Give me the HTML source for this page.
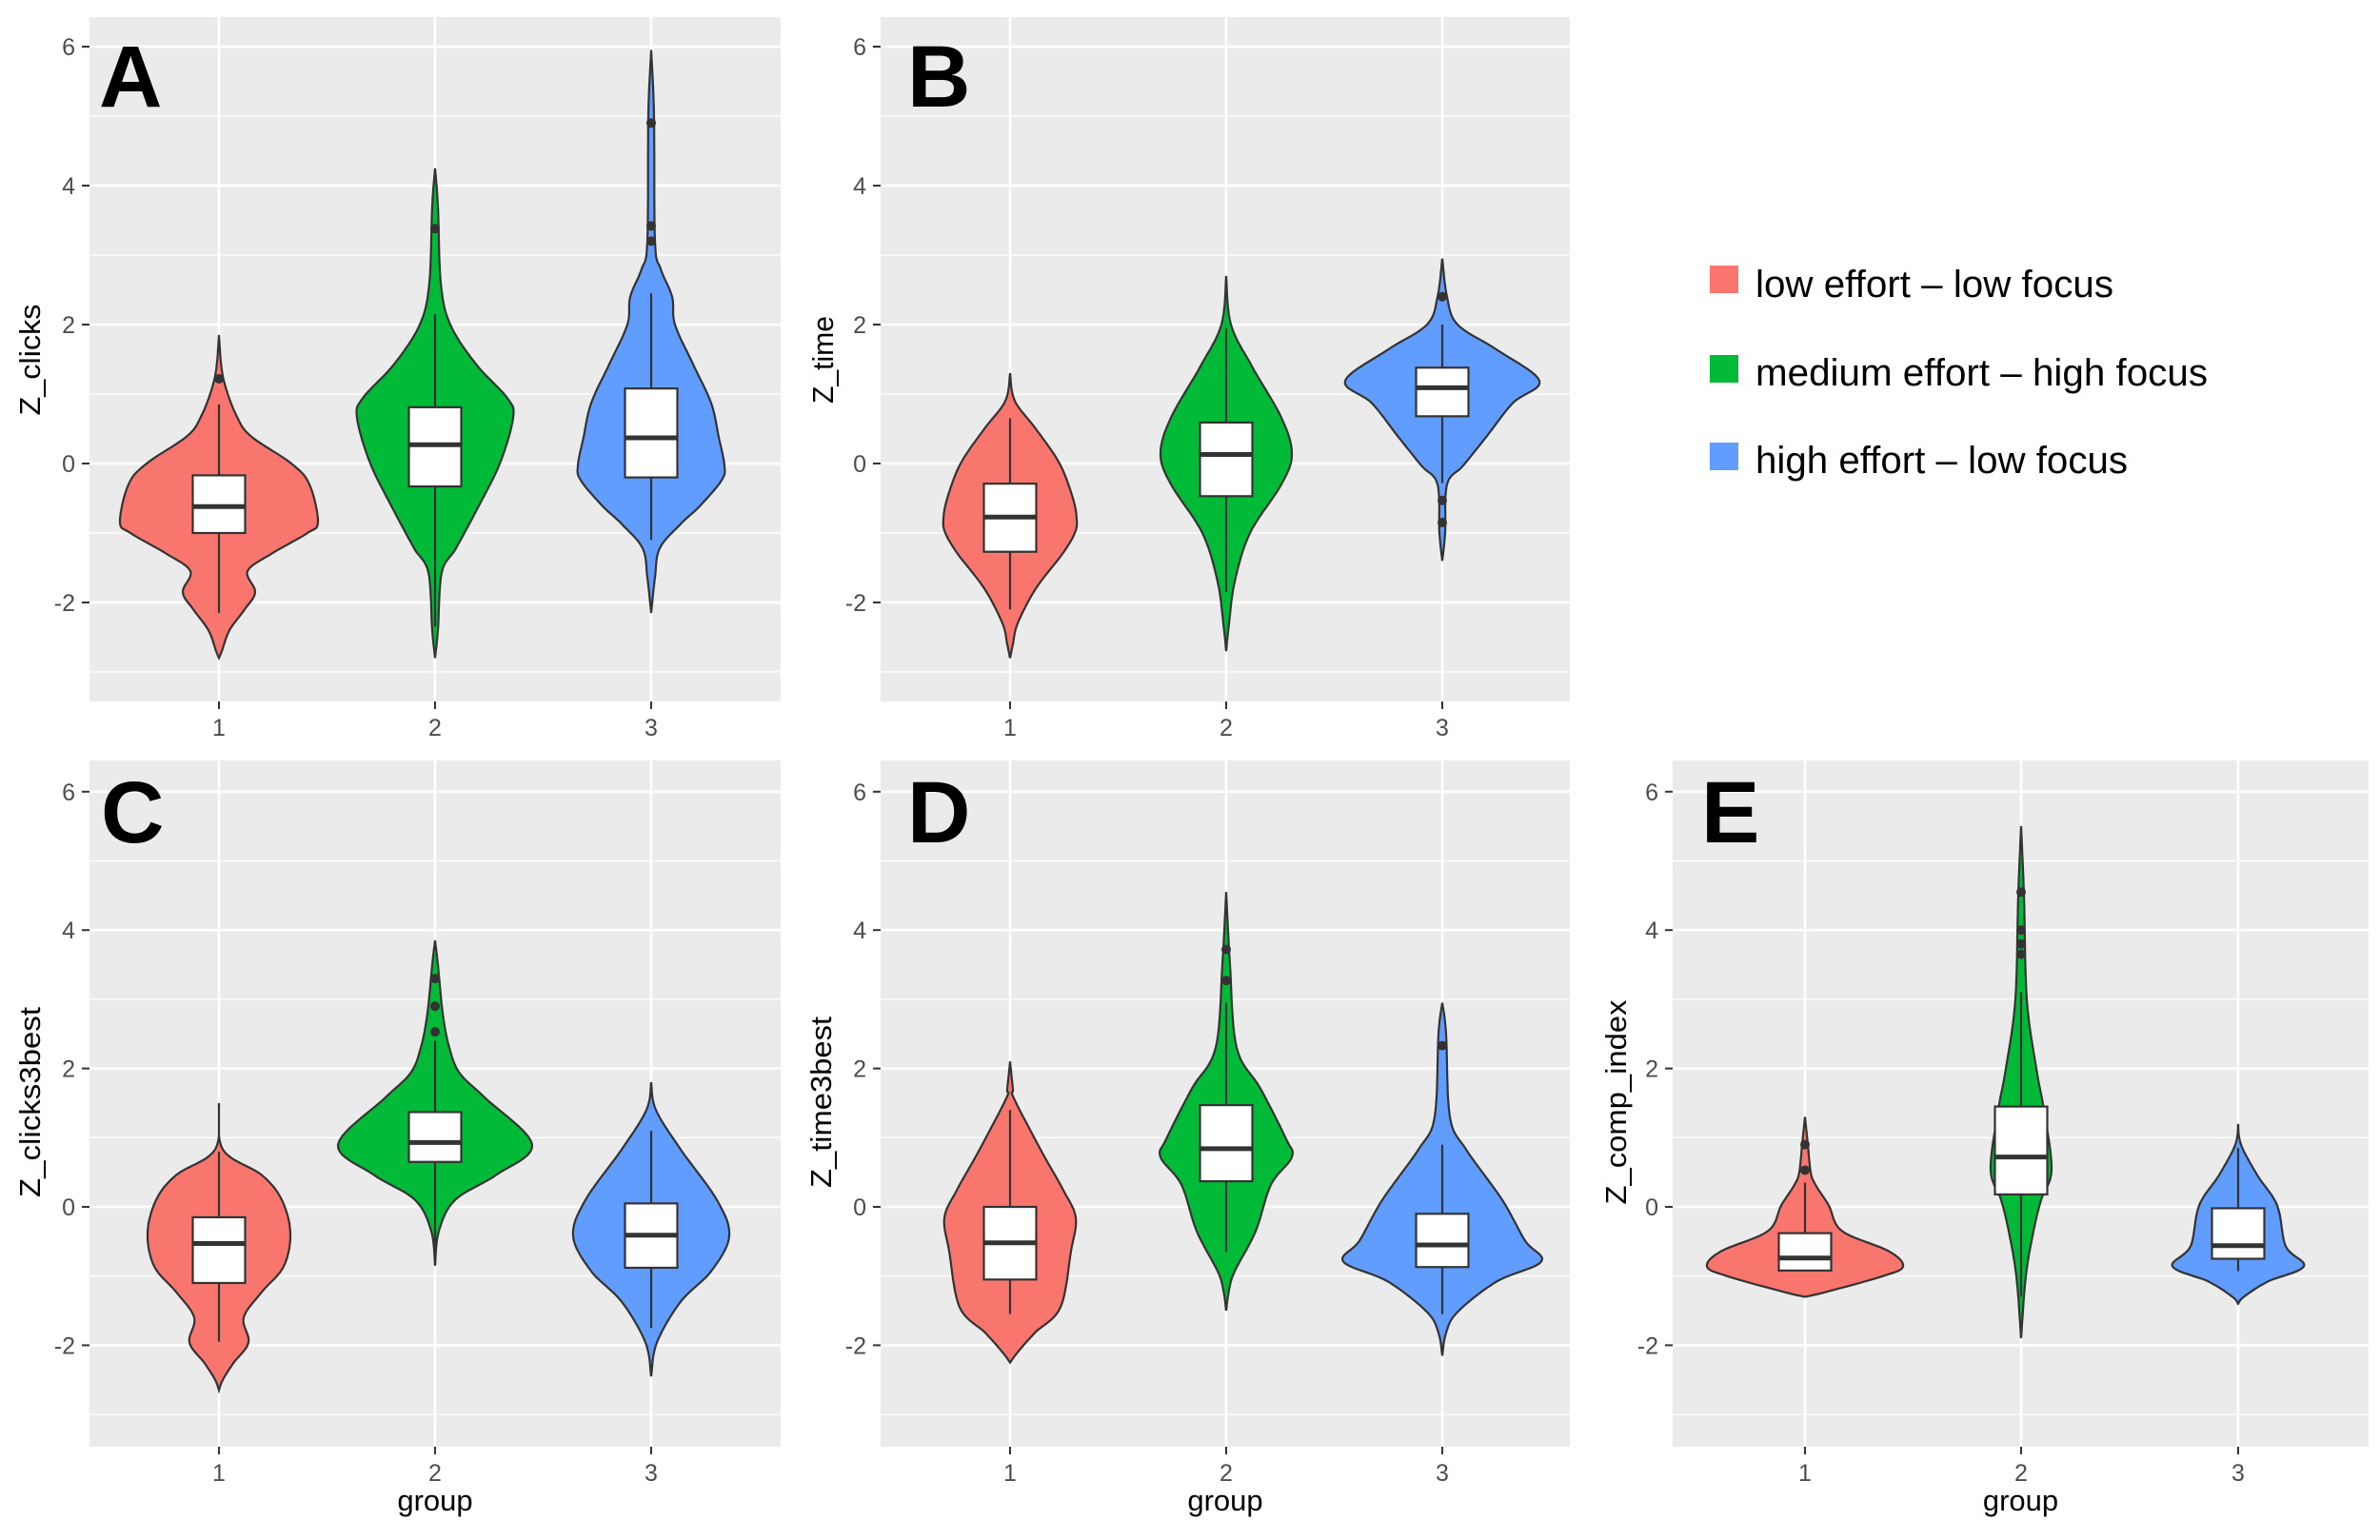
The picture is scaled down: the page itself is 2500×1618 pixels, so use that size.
<!DOCTYPE html>
<html><head><meta charset="utf-8">
<style>
html,body{margin:0;padding:0;background:#fff;}
svg{display:block;}
text{font-family:"Liberation Sans",Arial,sans-serif;}
</style></head>
<body>
<svg id="s" xmlns="http://www.w3.org/2000/svg" width="2500" height="1618" viewBox="0 0 2500 1618">
<rect width="2500" height="1618" fill="#fff"/>
<g id="g"></g>
<!-- legend -->
<rect x="1796" y="279" width="30" height="29" fill="#F8766D"/>
<rect x="1796" y="373" width="30" height="29" fill="#00BA38"/>
<rect x="1796" y="465" width="30" height="29" fill="#619CFF"/>
<text x="1844" y="312" font-size="40" textLength="376" lengthAdjust="spacingAndGlyphs">low effort – low focus</text>
<text x="1844" y="405" font-size="40" textLength="475" lengthAdjust="spacingAndGlyphs">medium effort – high focus</text>
<text x="1844" y="497" font-size="40" textLength="391" lengthAdjust="spacingAndGlyphs">high effort – low focus</text>
</svg>
<script>
var NS="http://www.w3.org/2000/svg";var G=document.getElementById("g");var out="";
var cols=["#F8766D","#00BA38","#619CFF"];
function cr(pts,n){ // catmull-rom on [v,hw]
 var r=[];for(var i=0;i<pts.length-1;i++){var p0=pts[Math.max(0,i-1)],p1=pts[i],p2=pts[i+1],p3=pts[Math.min(pts.length-1,i+2)];
 for(var t=0;t<n;t++){var s=t/n,s2=s*s,s3=s2*s;
 function f(a,b,c,d){return 0.5*((2*b)+(-a+c)*s+(2*a-5*b+4*c-d)*s2+(-a+3*b-3*c+d)*s3);}
 r.push([f(p0[0],p1[0],p2[0],p3[0]),Math.max(0,f(p0[1],p1[1],p2[1],p3[1]))]);}}
 r.push(pts[pts.length-1]);return r;}
var panels=[
{x0:94,x1:820,y0:18,y1:737,z:487,u:73,lab:"A",lx:104,ly:112,title:"Z_clicks",tx:31,ty:378,tl:117,xlab:false,
 v:[
 {p:[[1.85,0],[1.4,2.5],[1.1,7],[0.7,18],[0.4,33],[0,76],[-0.3,95],[-0.84,104],[-1.0,93],[-1.3,55],[-1.55,30],[-1.85,38],[-2.1,27],[-2.4,11],[-2.7,3],[-2.8,0]],b:[-1.0,-0.62,-0.17],w:[-2.15,0.85],o:[1.22]},
 {p:[[4.25,0],[3.7,3],[2.6,6],[2.0,16],[1.43,43],[0.94,76],[0.66,82],[0,68],[-0.66,44],[-1.22,22],[-1.57,7],[-2.4,3],[-2.8,0]],b:[-0.33,0.27,0.81],w:[-2.35,2.15],o:[3.38]},
 {p:[[5.95,0],[5,3],[3.2,4],[2.8,10],[2.4,22],[2.0,25],[1.43,44],[0.87,63],[0.38,71],[-0.03,77],[-0.24,74],[-0.6,52],[-0.87,31],[-1.22,9],[-1.64,4],[-2.15,0]],b:[-0.2,0.37,1.08],w:[-1.1,2.45],o:[4.9,3.42,3.2]}]},
{x0:925,x1:1649,y0:18,y1:737,z:487,u:73,lab:"B",lx:953,ly:112,title:"Z_time",tx:864,ty:378,tl:92,xlab:false,
 v:[
 {p:[[1.3,0],[0.9,5],[0.5,27],[0,52],[-0.5,66],[-0.8,70],[-1.0,68],[-1.3,55],[-1.8,27],[-2.3,8],[-2.6,3],[-2.8,0]],b:[-1.27,-0.77,-0.29],w:[-2.1,0.65],o:[]},
 {p:[[2.7,0],[2.0,5],[1.4,27],[0.66,58],[0.14,69],[-0.3,58],[-1.0,25],[-1.7,9],[-2.3,3],[-2.7,0]],b:[-0.47,0.13,0.59],w:[-1.85,1.95],o:[]},
 {p:[[2.95,0],[2.4,5],[2.0,16],[1.64,57],[1.19,102],[0.87,74],[0.38,46],[-0.03,22],[-0.3,5],[-1.0,3],[-1.4,0]],b:[0.68,1.09,1.38],w:[-0.28,2.0],o:[2.4,-0.53,-0.85]}]},
{x0:94,x1:820,y0:799,y1:1520,z:1268,u:72.7,lab:"C",lx:106,ly:885,title:"Z_clicks3best",tx:31,ty:1158,tl:200,xlab:true,
 v:[
 {p:[[1.5,0],[0.83,4],[0.46,45],[0.1,66],[-0.38,75],[-0.86,68],[-1.23,45],[-1.6,26],[-1.96,31],[-2.26,15],[-2.5,4],[-2.65,0]],b:[-1.1,-0.53,-0.15],w:[-1.95,0.8],o:[]},
 {p:[[3.85,0],[3.5,3],[2.8,8],[2.3,15],[1.93,26],[1.57,53],[0.9,102],[0.46,64],[0.1,21],[-0.35,4],[-0.85,0]],b:[0.65,0.93,1.37],w:[-0.6,2.4],o:[3.3,2.9,2.53]},
 {p:[[1.8,0],[1.4,5],[0.83,31],[0.1,69],[-0.42,82],[-0.93,63],[-1.37,31],[-1.96,6],[-2.45,0]],b:[-0.88,-0.41,0.05],w:[-1.75,1.1],o:[]}]},
{x0:925,x1:1649,y0:799,y1:1520,z:1268,u:72.7,lab:"D",lx:953,ly:885,title:"Z_time3best",tx:862,ty:1158,tl:180,xlab:true,
 v:[
 {p:[[2.1,0],[1.7,3],[1.57,4],[0.83,32],[0.24,56],[-0.16,69],[-0.64,64],[-1.45,53],[-1.82,26],[-2.1,8],[-2.25,0]],b:[-1.05,-0.52,0],w:[-1.55,1.4],o:[]},
 {p:[[4.55,0],[3.5,4],[2.3,11],[1.71,36],[0.98,63],[0.72,69],[0.32,47],[-0.35,31],[-0.93,9],[-1.2,3],[-1.5,0]],b:[0.37,0.84,1.47],w:[-0.65,2.95],o:[3.72,3.27]},
 {p:[[2.95,0],[2.5,4],[1.3,8],[0.83,25],[0.1,63],[-0.49,87],[-0.79,104],[-1.08,57],[-1.52,16],[-1.82,4],[-2.15,0]],b:[-0.87,-0.55,-0.1],w:[-1.55,0.9],o:[2.33]}]},
{x0:1757,x1:2488,y0:799,y1:1520,z:1268,u:72.7,lab:"E",lx:1787,ly:885,title:"Z_comp_index",tx:1697,ty:1158,tl:215,xlab:true,
 v:[
 {p:[[1.3,0],[0.9,3],[0.5,6],[0.32,11],[0.02,25],[-0.35,39],[-0.64,88],[-0.86,103],[-1.0,82],[-1.23,22],[-1.3,0]],b:[-0.92,-0.74,-0.38],w:[-0.92,0.35],o:[0.9,0.53]},
 {p:[[5.5,0],[4.5,3],[3,6],[2.0,16],[1.4,24],[0.54,32],[0.1,21],[-0.35,13],[-1.0,5],[-1.9,0]],b:[0.18,0.72,1.45],w:[-1.3,3.1],o:[4.55,4.0,3.8,3.65]},
 {p:[[1.2,0],[0.9,3],[0.46,20],[0.02,41],[-0.57,50],[-0.86,69],[-1.08,31],[-1.3,6],[-1.4,0]],b:[-0.75,-0.56,-0.02],w:[-0.93,0.85],o:[]}]}
];
panels.forEach(function(P){
 var Y=function(v){return P.z-v*P.u;};
 var off=[136,363,590];if(P.lab=="E")off=[139,366,594];
 var cx=off.map(function(o){return P.x0+o;});
 out+='<rect x="'+P.x0+'" y="'+P.y0+'" width="'+(P.x1-P.x0)+'" height="'+(P.y1-P.y0)+'" fill="#EBEBEB"/>';
 [-3,-1,1,3,5].forEach(function(v){out+='<line x1="'+P.x0+'" x2="'+P.x1+'" y1="'+Y(v)+'" y2="'+Y(v)+'" stroke="#fff" stroke-width="1.3"/>';});
 [-2,0,2,4,6].forEach(function(v){var y=Y(v);out+='<line x1="'+P.x0+'" x2="'+P.x1+'" y1="'+y+'" y2="'+y+'" stroke="#fff" stroke-width="2.6"/>';
  out+='<line x1="'+(P.x0-8)+'" x2="'+P.x0+'" y1="'+y+'" y2="'+y+'" stroke="#333" stroke-width="2"/>';
  out+='<text x="'+(P.x0-15)+'" y="'+(y+9)+'" font-size="25" fill="#4D4D4D" text-anchor="end">'+(v<0?'-'+(-v):v)+'</text>';});
 cx.forEach(function(x,i){out+='<line x1="'+x+'" x2="'+x+'" y1="'+P.y0+'" y2="'+P.y1+'" stroke="#fff" stroke-width="2.6"/>';
  out+='<line x1="'+x+'" x2="'+x+'" y1="'+P.y1+'" y2="'+(P.y1+8)+'" stroke="#333" stroke-width="2"/>';
  out+='<text x="'+x+'" y="'+(P.y1+36)+'" font-size="25" fill="#4D4D4D" text-anchor="middle">'+(i+1)+'</text>';});
 P.v.forEach(function(V,i){var x=cx[i];var pts=cr(V.p,10);
  var d="M";pts.forEach(function(q,k){d+=(k?"L":"")+(x+q[1]).toFixed(1)+","+Y(q[0]).toFixed(1);});
  for(var k=pts.length-1;k>=0;k--){d+="L"+(x-pts[k][1]).toFixed(1)+","+Y(pts[k][0]).toFixed(1);}d+="Z";
  out+='<path d="'+d+'" fill="'+cols[i]+'" stroke="#333" stroke-width="2.2"/>';
  out+='<line x1="'+x+'" x2="'+x+'" y1="'+Y(V.w[1])+'" y2="'+Y(V.w[0])+'" stroke="#333" stroke-width="2.2"/>';
  var hw=27.5;
  out+='<rect x="'+(x-hw)+'" y="'+Y(V.b[2])+'" width="'+(2*hw)+'" height="'+(Y(V.b[0])-Y(V.b[2]))+'" fill="#fff" stroke="#333" stroke-width="2.2"/>';
  out+='<line x1="'+(x-hw)+'" x2="'+(x+hw)+'" y1="'+Y(V.b[1])+'" y2="'+Y(V.b[1])+'" stroke="#333" stroke-width="5"/>';
  V.o.forEach(function(o){out+='<circle cx="'+x+'" cy="'+Y(o)+'" r="5" fill="#333"/>';});
 });
 out+='<text x="'+P.lx+'" y="'+P.ly+'" font-size="92" font-weight="bold" fill="#000">'+P.lab+'</text>';
 out+='<text transform="translate('+(P.tx+11)+','+P.ty+') rotate(-90)" font-size="31" text-anchor="middle" textLength="'+P.tl+'" lengthAdjust="spacingAndGlyphs" fill="#000">'+P.title+'</text>';
 if(P.xlab)out+='<text x="'+((P.x0+P.x1)/2)+'" y="1587" font-size="31" text-anchor="middle" fill="#000">group</text>';
});
G.innerHTML=out;
</script>
</body></html>
